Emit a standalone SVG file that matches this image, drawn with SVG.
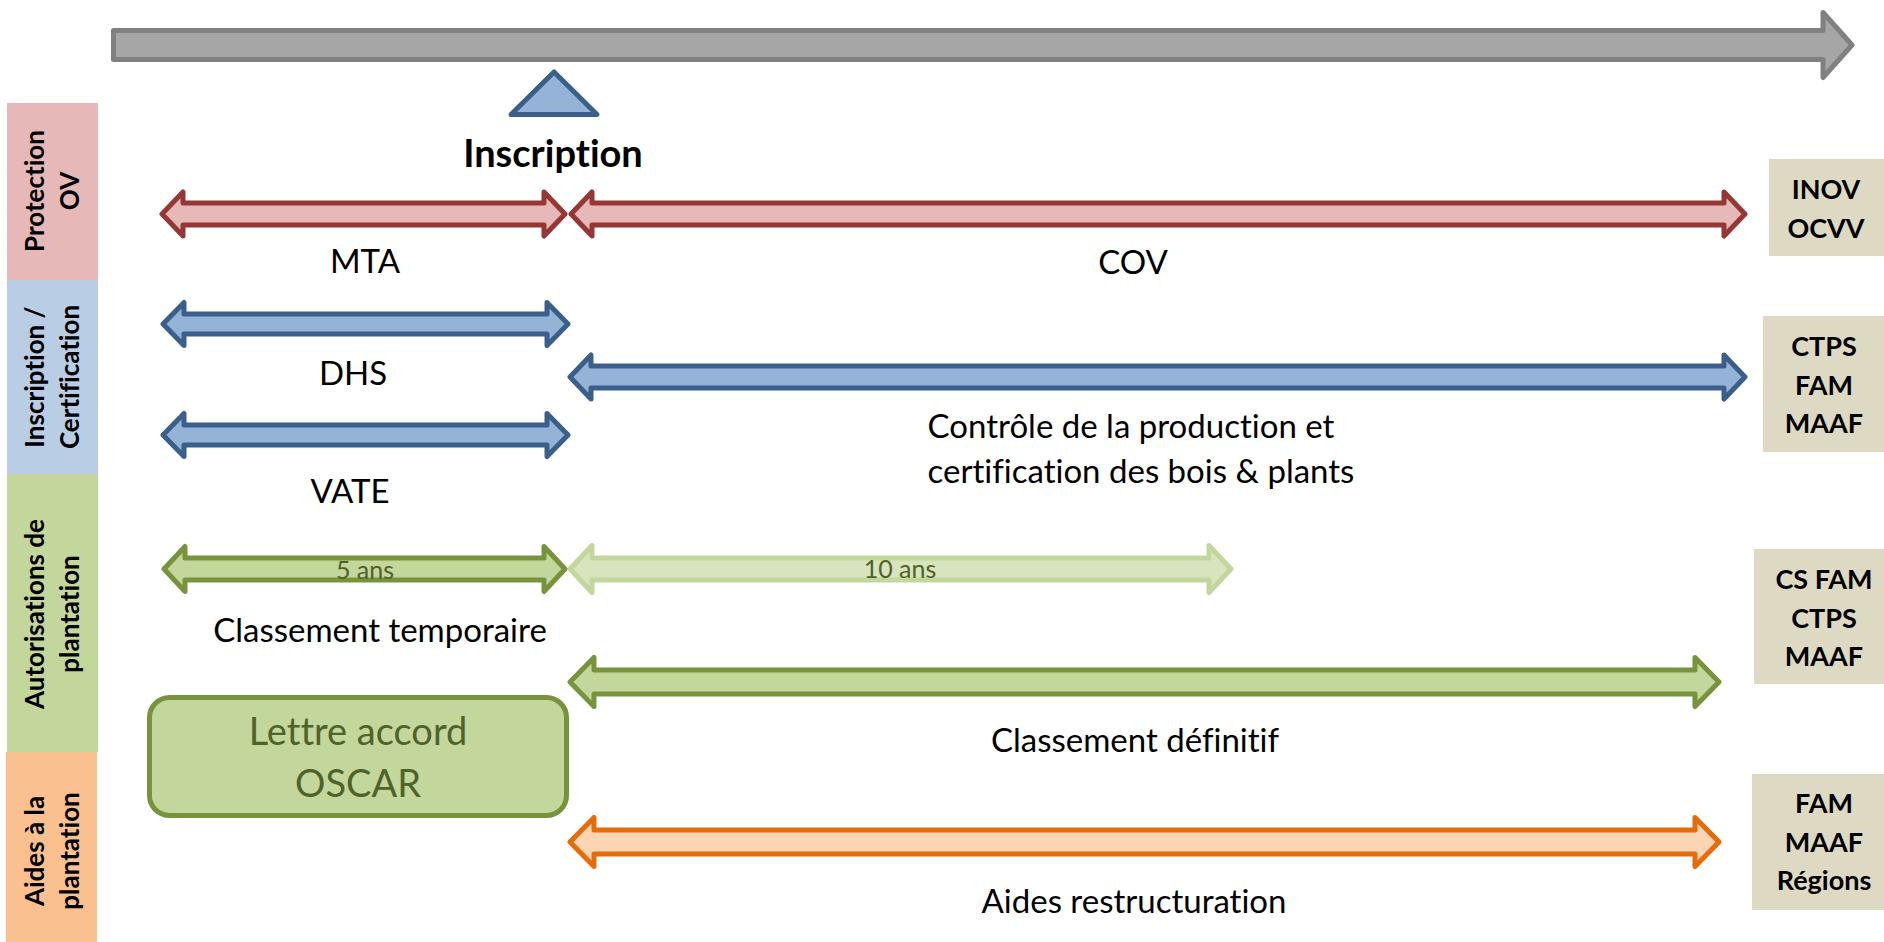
<svg xmlns="http://www.w3.org/2000/svg" width="1884" height="942" viewBox="0 0 1884 942">
<style>
text{font-variant-ligatures:none;font-feature-settings:"liga" 0,"dlig" 0}
.t{font-family:Lato,"Open Sans","Liberation Sans",sans-serif;font-size:33px;fill:#000;text-anchor:middle}
.b{font-family:Lato,"Open Sans","Liberation Sans",sans-serif;font-weight:bold;text-anchor:middle;fill:#000}
.side{font-size:26px}
.org{font-size:27px}
.g{fill:#4f6228}
.red{fill:#e6b9b8;stroke:#953735;stroke-width:5;stroke-linejoin:round}
.blue{fill:#95b3d7;stroke:#3b5f8b;stroke-width:5;stroke-linejoin:round}
.grn{fill:#c3d69b;stroke:#77933c;stroke-width:5;stroke-linejoin:round}
.lgrn{fill:#d7e4bd;stroke:#c3d69b;stroke-width:5;stroke-linejoin:round}
.orng{fill:#fcd5b5;stroke:#e46c0a;stroke-width:5;stroke-linejoin:round}
.box{fill:#ddd9c3}
</style>
<rect width="1884" height="942" fill="#fff"/>
<g id="timeline">
<path d="M113.5,30.5 L1823,30.5 L1823,12.5 L1852,45 L1823,77.5 L1823,59.5 L113.5,59.5 Z" fill="#a6a6a6" stroke="#808080" stroke-width="5" stroke-linejoin="round"/>
</g>
<g id="inscription">
<path d="M554,72 L597,114.5 L511,114.5 Z" class="blue"/>
<text x="553" y="167" class="b" style="font-size:38px">Inscription</text>
</g>
<g id="lane-protection">
<rect x="7" y="103" width="91" height="177" fill="#e6b9b8"/>
<text class="b side" transform="translate(0,191) rotate(-90)"><tspan x="0" y="44">Protection</tspan><tspan x="0" y="79">OV</tspan></text>
</g>
<g id="lane-inscription">
<rect x="7" y="280" width="91" height="194" fill="#b9cde5"/>
<text class="b side" transform="translate(0,377) rotate(-90)"><tspan x="0" y="44">Inscription /</tspan><tspan x="0" y="79">Certification</tspan></text>
</g>
<g id="lane-autorisations">
<rect x="7" y="474" width="91" height="278" fill="#c3d69b"/>
<text class="b side" transform="translate(0,614) rotate(-90)"><tspan x="0" y="44">Autorisations de</tspan><tspan x="0" y="79">plantation</tspan></text>
</g>
<g id="lane-aides">
<rect x="6" y="752" width="91" height="190" fill="#fac090"/>
<text class="b side" transform="translate(0,851) rotate(-90)"><tspan x="0" y="44">Aides à la</tspan><tspan x="0" y="79">plantation</tspan></text>
</g>
<g id="connectors">
<path id="mta" class="red" d="M162,214 L183,192 L183,203 L544,203 L544,192 L565,214 L544,236 L544,225 L183,225 L183,236 Z"/>
<path id="cov" class="red" d="M571,214 L592,192 L592,203 L1724,203 L1724,192 L1745,214 L1724,236 L1724,225 L592,225 L592,236 Z"/>
<path id="dhs" class="blue" d="M163,324 L184,302.5 L184,314 L547,314 L547,302.5 L568,324 L547,345.5 L547,334 L184,334 L184,345.5 Z"/>
<path id="vate" class="blue" d="M163,435 L184,413.5 L184,425 L547,425 L547,413.5 L568,435 L547,456.5 L547,445 L184,445 L184,456.5 Z"/>
<path id="controle" class="blue" d="M570,377 L591,355 L591,366 L1724,366 L1724,355 L1745,377 L1724,399 L1724,388 L591,388 L591,399 Z"/>
<path id="dix-ans" class="lgrn" d="M570,569 L592,545.5 L592,558 L1209,558 L1209,545.5 L1231,569 L1209,592.5 L1209,580 L592,580 L592,592.5 Z"/>
<path id="cinq-ans" class="grn" d="M164,569 L185,546.5 L185,558 L544,558 L544,546.5 L565,569 L544,591.5 L544,580 L185,580 L185,591.5 Z"/>
<path id="definitif" class="grn" d="M570,682 L594,657.5 L594,670 L1695,670 L1695,657.5 L1719,682 L1695,706.5 L1695,694 L594,694 L594,706.5 Z"/>
<path id="aides" class="orng" d="M570,842 L594,817.5 L594,830 L1695,830 L1695,817.5 L1719,842 L1695,866.5 L1695,854 L594,854 L594,866.5 Z"/>
</g>
<g id="labels">
<text x="365" y="273" class="t">MTA</text>
<text x="1133" y="274" class="t">COV</text>
<text x="353" y="385" class="t">DHS</text>
<text x="350" y="503" class="t">VATE</text>
<text x="1131" y="438" class="t">Contrôle de la production et</text>
<text x="1141" y="483" class="t">certification des bois &amp; plants</text>
<text x="365" y="579" class="t g" style="font-size:25px">5 ans</text>
<text x="900" y="578" class="t g" style="font-size:25px">10 ans</text>
<text x="380" y="642" class="t">Classement temporaire</text>
<text x="1135" y="752" class="t">Classement définitif</text>
<text x="1134" y="913" class="t">Aides restructuration</text>
</g>
<g id="oscar">
<rect x="149.5" y="697.5" width="417" height="118" rx="20" ry="20" class="grn"/>
<text x="358" y="745" class="t g" style="font-size:38px">Lettre accord</text>
<text x="358" y="797" class="t g" style="font-size:38px">OSCAR</text>
</g>
<g id="org-protection">
<rect x="1769" y="159" width="115" height="97" class="box"/>
<text class="b org"><tspan x="1826" y="199">INOV</tspan><tspan x="1826" y="238">OCVV</tspan></text>
</g>
<g id="org-inscription">
<rect x="1763" y="316" width="121" height="136" class="box"/>
<text class="b org"><tspan x="1824" y="356">CTPS</tspan><tspan x="1824" y="395">FAM</tspan><tspan x="1824" y="433">MAAF</tspan></text>
</g>
<g id="org-autorisations">
<rect x="1754" y="549" width="130" height="135" class="box"/>
<text class="b org"><tspan x="1824" y="589">CS FAM</tspan><tspan x="1824" y="628">CTPS</tspan><tspan x="1824" y="666">MAAF</tspan></text>
</g>
<g id="org-aides">
<rect x="1752" y="774" width="132" height="136" class="box"/>
<text class="b org"><tspan x="1824" y="813">FAM</tspan><tspan x="1824" y="852">MAAF</tspan><tspan x="1824" y="890">Régions</tspan></text>
</g>
</svg>
